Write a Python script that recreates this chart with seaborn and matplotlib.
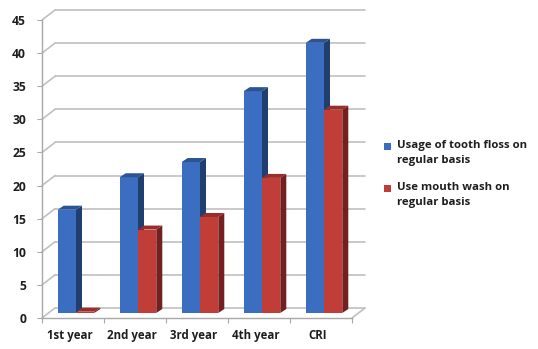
import numpy as np
import pandas as pd
import matplotlib
matplotlib.use("Agg")
import matplotlib.pyplot as plt
import matplotlib.transforms as mtransforms
from matplotlib.patches import Polygon, Rectangle
from matplotlib.lines import Line2D
import seaborn as sns

# Survey results (%), per study year
categories = ["1st year", "2nd year", "3rd year", "4th year", "CRI"]
floss = [15.6, 20.5, 22.8, 33.5, 40.8]
mouthwash = [0.2, 12.6, 14.5, 20.4, 30.7]
series = ["Usage of tooth floss on\nregular basis", "Use mouth wash on\nregular basis"]
yticks = list(range(0, 46, 5))

front_colors = ["#3B6DC0", "#C03D38"]
side_colors = ["#203E6E", "#73201E"]
top_colors = ["#2C5393", "#982D2A"]
grid_color = "#C0C0C0"
axis_color = "#A8A8A8"
text_color = "#1E1E1E"

df = pd.DataFrame({
    "group": categories * 2,
    "series": [series[0]] * len(categories) + [series[1]] * len(categories),
    "value": floss + mouthwash,
})

sns.set_theme(style="white")
plt.rcParams["font.family"] = ["Open Sans", "DejaVu Sans"]
plt.rcParams["font.weight"] = "bold"

DPI = 100
W, H = 538, 349
fig = plt.figure(figsize=(W / DPI, H / DPI), dpi=DPI)
ax = fig.add_axes([42 / W, 31 / H, 310 / W, 298 / H])

sns.barplot(data=df, x="group", y="value", hue="series", order=categories,
            hue_order=series, palette=front_colors, width=0.59, saturation=1,
            linewidth=0, legend=False, ax=ax)
ax.set_xlim(-0.5, len(categories) - 0.5)
ax.set_ylim(0, 45)

# pseudo-3D geometry (pixel offsets)
WALL = (13, 10)
BAR_FRONT = (3, 5)
BAR_DEPTH = (6, 4)


def shifted(x, y, dx, dy):
    p = ax.transData.transform((x, y)) + np.array([dx, dy])
    return ax.transData.inverted().transform(p)


x0, x1 = ax.get_xlim()
# back wall gridlines and side-wall diagonals
for v in yticks:
    b0 = shifted(x0, v, *WALL)
    b1 = shifted(x1, v, *WALL)
    ax.add_line(Line2D([b0[0], b1[0]], [b0[1], b1[1]], color=grid_color,
                       lw=1.2, clip_on=False, zorder=1))
    ax.add_line(Line2D([x0, b0[0]], [v, b0[1]], color=grid_color,
                       lw=1.2, clip_on=False, zorder=1))
# right edge of the floor
fr = shifted(x1, 0, *WALL)
ax.add_line(Line2D([x1, fr[0]], [0, fr[1]], color=grid_color, lw=1.2,
                   clip_on=False, zorder=1))

# extrude the bars
shift = mtransforms.ScaledTranslation(BAR_FRONT[0] / DPI, BAR_FRONT[1] / DPI,
                                      fig.dpi_scale_trans)
for k, cont in enumerate(ax.containers):
    for bar in cont:
        bar.set_transform(ax.transData + shift)
        bar.set_zorder(3 + k)
        bx, bw, bh = bar.get_x(), bar.get_width(), bar.get_height()
        fx, fy = BAR_FRONT
        bx2, by2 = fx + BAR_DEPTH[0], fy + BAR_DEPTH[1]
        side = [shifted(bx + bw, 0, fx, fy), shifted(bx + bw, bh, fx, fy),
                shifted(bx + bw, bh, bx2, by2), shifted(bx + bw, 0, bx2, by2)]
        top = [shifted(bx, bh, fx, fy), shifted(bx + bw, bh, fx, fy),
               shifted(bx + bw, bh, bx2, by2), shifted(bx, bh, bx2, by2)]
        ax.add_patch(Polygon(side, closed=True, facecolor=side_colors[k],
                             edgecolor="none", zorder=3 + k, clip_on=False))
        ax.add_patch(Polygon(top, closed=True, facecolor=top_colors[k],
                             edgecolor="none", zorder=3 + k, clip_on=False))

# axes styling
for s in ["top", "right"]:
    ax.spines[s].set_visible(False)
for s in ["left", "bottom"]:
    ax.spines[s].set_color(axis_color)
    ax.spines[s].set_linewidth(1.0)
    ax.spines[s].set_zorder(2)

ax.set_yticks(yticks)
ax.set_yticklabels([str(t) for t in yticks])
ax.set_xticks(range(len(categories)))
ax.set_xticklabels(categories)
ax.set_xticks(np.arange(-0.5, len(categories)), minor=True)
ax.set_xlabel("")
ax.set_ylabel("")
ax.tick_params(axis="y", left=True, length=3.5, width=0.8, color=axis_color,
               pad=8, labelcolor=text_color)
ax.tick_params(axis="x", which="major", bottom=True, length=0, pad=8,
               labelcolor=text_color)
ax.tick_params(axis="x", which="minor", bottom=True, length=3.5, width=0.8,
               color=axis_color)

# legend: square key aligned with the first line of each label
legend_rows = [147, 189]  # pixel rows (from top) of the first label line
legend_texts = []
for k, (label, row) in enumerate(zip(series, legend_rows)):
    fig.add_artist(Rectangle((384 / W, 1 - (row + 3) / H), 7 / W, 7 / H,
                             transform=fig.transFigure,
                             facecolor=front_colors[k], edgecolor="none"))
    legend_texts.append(fig.text(397 / W, 1 - (row - 7) / H, label,
                                 ha="left", va="top", fontsize=9,
                                 fontweight="bold", color=text_color,
                                 linespacing=1.45))

# size the type so the glyph runs have the intended pixel widths
renderer = fig.canvas.get_renderer()


def fit(text, target_px):
    w = text.get_window_extent(renderer).width
    return text.get_fontsize() * target_px / w


xl = ax.get_xticklabels()
yl = ax.get_yticklabels()
for t in xl + yl:
    t.set_fontweight("bold")
    t.set_fontsize(9)
xsize = fit(xl[0], 46)
ysize = fit(yl[-1], 14)
nudge = mtransforms.ScaledTranslation(-3 / DPI, 0, fig.dpi_scale_trans)
for t in xl:
    t.set_fontsize(xsize)
    t.set_transform(t.get_transform() + nudge)
for t in yl:
    t.set_fontsize(ysize)
first_line = fig.text(0, 0, series[0].split("\n")[0], fontsize=9,
                      fontweight="bold")
lsize = fit(first_line, 130)
first_line.remove()
for t in legend_texts:
    t.set_fontsize(lsize)

fig.savefig("out.png", dpi=DPI)
